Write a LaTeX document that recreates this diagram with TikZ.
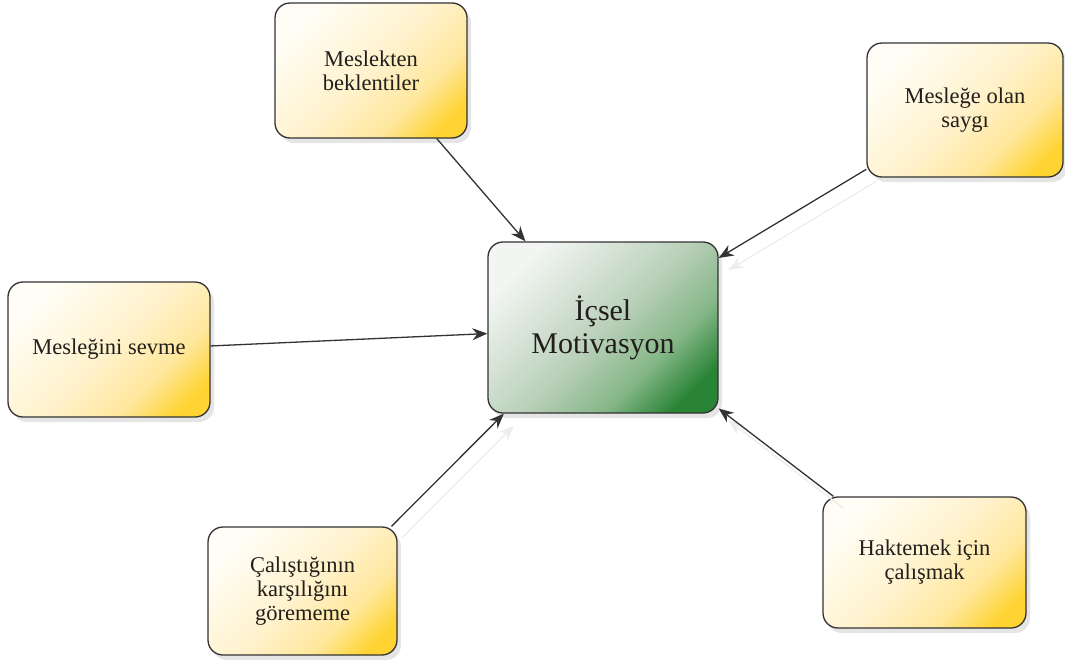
\documentclass[tikz,border=0pt]{standalone}
\usepackage{fontspec}
\setmainfont{Liberation Serif}
\usetikzlibrary{arrows.meta,shadows}

\definecolor{edgegray}{HTML}{333333}
\definecolor{textdark}{HTML}{221E1C}
\definecolor{yelLight}{HTML}{FFFDF5}
\definecolor{yelSoft}{HTML}{FFF2CC}
\definecolor{yelMid}{HTML}{FFE79C}
\definecolor{yelDark}{HTML}{FFD432}
\definecolor{grnLight}{HTML}{F2F5F2}
\definecolor{grnSoft}{HTML}{BBD1BB}
\definecolor{grnMid}{HTML}{86B788}
\definecolor{grnDark}{HTML}{2A8436}

% diagonal fills: pale at the upper left, saturated towards the lower right
\pgfdeclareverticalshading{yelshade}{100bp}{color(0bp)=(yelDark); color(22bp)=(yelDark);
  color(34bp)=(yelMid); color(50bp)=(yelSoft); color(75bp)=(yelLight); color(100bp)=(yelLight)}
\pgfdeclareverticalshading{grnshade}{100bp}{color(0bp)=(grnDark); color(23bp)=(grnDark);
  color(35bp)=(grnMid); color(50bp)=(grnSoft); color(75bp)=(grnLight); color(100bp)=(grnLight)}

\tikzset{
  box/.style={draw=edgegray, line width=1.3pt, rounded corners=15pt,
    align=center, inner sep=0pt, text=textdark,
    drop shadow={shadow xshift=4pt, shadow yshift=-5pt, opacity=0.10, fill=black}},
  idea/.style={box, shading=yelshade, shading angle=45,
    font=\fontsize{22.5}{24}\selectfont},
  core/.style={box, shading=grnshade, shading angle=45,
    font=\fontsize{30}{33}\selectfont},
  link/.style={draw=edgegray, line width=1.3pt,
    -{Stealth[length=15pt,width=12pt]}},
  echo/.style={draw=black!7, line width=1.3pt,
    -{Stealth[length=15pt,width=12pt]},
    transform canvas={shift={(10pt,-12pt)}}},
}

\begin{document}
\begin{tikzpicture}[x=1pt, y=-1pt]
  \useasboundingbox (0,0) rectangle (1065,667);

  % central concept
  \node[core, minimum width=230pt, minimum height=171pt] (c) at (603,327.5)
    {İçsel\\Motivasyon};

  % surrounding factors
  \node[idea, minimum width=192pt, minimum height=135pt] (mb) at (371,70.5)
    {Meslekten\\beklentiler};
  \node[idea, minimum width=196pt, minimum height=134pt] (ms2) at (965,110)
    {Mesleğe olan\\saygı};
  \node[idea, minimum width=202pt, minimum height=135pt] (ms) at (109,349.5)
    {Mesleğini sevme};
  \node[idea, minimum width=189pt, minimum height=128pt] (cg) at (302.5,591)
    {Çalıştığının\\karşılığını\\görememe};
  \node[idea, minimum width=203pt, minimum height=131pt] (hk) at (924.5,562.5)
    {Haktemek için\\çalışmak};

  % faint connector shadows
  \draw[echo] (ms2.211.5) -- (c.31.9);
  \draw[echo] (cg.36.8) -- (c.221.1);
  \draw[echo] (hk.144.7) -- (c.-35.7);

  % connectors
  \draw[link] (mb.-46.5) -- (c.132.4);
  \draw[link] (ms2.211.5) -- (c.31.9);
  \draw[link] (ms.2.5) -- (c.183.2);
  \draw[link] (cg.36.8) -- (c.221.1);
  \draw[link] (hk.144.7) -- (c.-35.7);
\end{tikzpicture}
\end{document}
